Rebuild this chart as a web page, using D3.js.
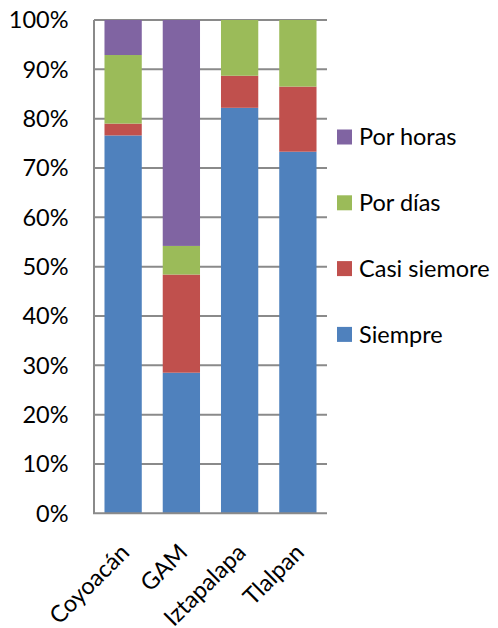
<!DOCTYPE html>
<html><head><meta charset="utf-8">
<script src="https://cdn.jsdelivr.net/npm/d3@7"></script>
<style>body{margin:0;background:#fff}svg{display:block}</style>
</head><body>
<svg id="c" width="498" height="628"></svg>
<script>
const categories = ["Coyoacán", "GAM", "Iztapalapa", "Tlalpan"];
const seriesNames = ["Siempre", "Casi siemore", "Por días", "Por horas"];
const siempre = [76.6, 28.5, 82.2, 73.3];
const casiSiempre = [2.4, 19.9, 6.5, 13.2];
const porDias = [13.9, 5.8, 11.3, 13.5];
const porHoras = [7.1, 45.8, 0, 0];
const yTicks = [0, 10, 20, 30, 40, 50, 60, 70, 80, 90, 100];
const colors = ["#4F81BD", "#C0504D", "#9BBB59", "#8064A2"];

const seriesValues = [siempre, casiSiempre, porDias, porHoras];
const rows = categories.map((c, i) => {
  const r = {cat: c};
  seriesNames.forEach((s, j) => r[s] = seriesValues[j][i]);
  return r;
});
const stack = d3.stack().keys(seriesNames).offset(d3.stackOffsetExpand)(rows);

const svg = d3.select("#c");
const font = "Lato, 'Open Sans', sans-serif";
const fs = 23.5;
const m = {l: 94, t: 20, r: 327, b: 513.3};
const x = d3.scaleBand().domain(categories).range([m.l, m.r]).paddingInner(0.36).paddingOuter(0.18);
const y = d3.scaleLinear().domain([0, 1]).range([m.b, m.t]);

// gridlines
svg.append("g").selectAll("line").data(yTicks.filter(t => t > 0)).join("line")
  .attr("x1", m.l).attr("x2", m.r)
  .attr("y1", d => y(d / 100)).attr("y2", d => y(d / 100))
  .attr("stroke", "#8a8a8a").attr("stroke-width", 2);

// bars
svg.append("g").selectAll("g").data(stack).join("g")
  .attr("fill", (d, i) => colors[i])
  .selectAll("rect").data(d => d).join("rect")
  .attr("x", d => x(d.data.cat))
  .attr("width", x.bandwidth())
  .attr("y", d => y(d[1]))
  .attr("height", d => y(d[0]) - y(d[1]));

// axes lines
svg.append("line").attr("x1", m.l).attr("x2", m.l).attr("y1", m.t).attr("y2", m.b)
  .attr("stroke", "#8a8a8a").attr("stroke-width", 2);
svg.append("line").attr("x1", m.l - 1).attr("x2", m.r).attr("y1", m.b).attr("y2", m.b)
  .attr("stroke", "#8a8a8a").attr("stroke-width", 2);

// y labels
svg.append("g").selectAll("text").data(yTicks).join("text")
  .attr("x", 68.5).attr("y", d => y(d / 100))
  .attr("dy", "0.35em").attr("text-anchor", "end")
  .attr("font-family", font).attr("font-size", fs).attr("fill", "#000")
  .text(d => d + "%");

// x labels
svg.append("g").selectAll("text").data(categories).join("text")
  .attr("transform", d => `translate(${x(d) + x.bandwidth() / 2 - 4},${m.b + 29}) rotate(-45)`)
  .attr("text-anchor", "end").attr("dy", "0.7em")
  .attr("font-family", font).attr("font-size", fs).attr("fill", "#000")
  .text(d => d);

// legend
const legendOrder = [3, 2, 1, 0];
const lg = svg.append("g").selectAll("g").data(legendOrder).join("g")
  .attr("transform", (d, i) => `translate(337,${137 + i * 65.8})`);
lg.append("rect").attr("x", 0).attr("y", -7.5).attr("width", 15).attr("height", 15)
  .attr("fill", d => colors[d]);
lg.append("text").attr("x", 22).attr("y", 0).attr("dy", "0.35em")
  .attr("font-family", font).attr("font-size", fs).attr("fill", "#000")
  .text(d => seriesNames[d]);
</script>
</body></html>
